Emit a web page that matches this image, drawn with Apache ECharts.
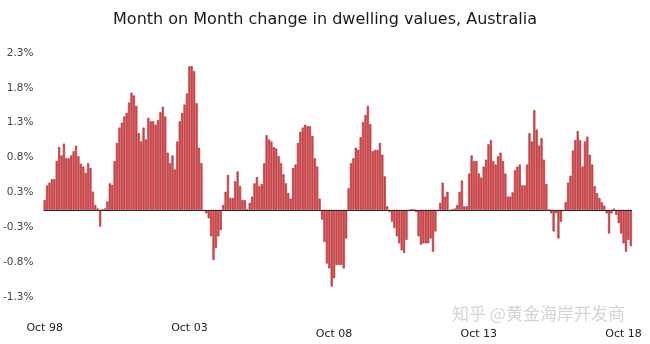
<!DOCTYPE html>
<html>
<head>
<meta charset="utf-8">
<script src="https://cdn.jsdelivr.net/npm/echarts@6/dist/echarts.min.js"></script>
<style>html,body{margin:0;padding:0;background:#fff;}#c{width:650px;height:344px;}</style>
</head>
<body>
<div id="c"></div>
<script>
// Monthly change (%) from Oct 98
const values = [
 0.14,0.35,0.39,0.44,0.44,0.70,0.90,0.78,0.95,0.74,
 0.74,0.78,0.84,0.92,0.77,0.66,0.62,0.53,0.67,0.60,
 0.26,0.07,0.02,-0.24,0.01,0.02,0.12,0.38,0.36,0.70,
 0.96,1.18,1.25,1.34,1.39,1.54,1.68,1.64,1.49,1.10,
 0.98,1.18,1.01,1.32,1.27,1.27,1.22,1.29,1.40,1.48,
 1.34,0.82,0.67,0.78,0.58,0.98,1.27,1.39,1.51,1.67,
 2.06,2.06,1.99,1.53,0.89,0.67,-0.02,-0.05,-0.12,-0.38,
 -0.72,-0.55,-0.38,-0.29,0.07,0.26,0.50,0.17,0.17,0.41,
 0.55,0.34,0.14,0.14,0.01,0.10,0.19,0.38,0.47,0.34,
 0.37,0.67,1.07,1.01,0.98,0.90,0.88,0.77,0.67,0.51,
 0.38,0.24,0.16,0.60,0.65,0.96,1.12,1.18,1.22,1.20,
 1.20,1.06,0.74,0.62,0.16,-0.14,-0.46,-0.77,-0.84,-1.10,
 -0.98,-0.79,-0.79,-0.79,-0.84,-0.41,0.31,0.67,0.74,0.89,
 0.86,1.04,1.26,1.36,1.49,1.23,0.84,0.86,0.86,0.96,
 0.79,0.48,0.05,-0.03,-0.17,-0.26,-0.38,-0.48,-0.58,-0.62,
 -0.43,-0.02,0.01,0.01,-0.03,-0.38,-0.50,-0.48,-0.48,-0.48,
 -0.41,-0.60,-0.31,-0.02,0.10,0.39,0.19,0.26,-0.02,0.01,
 0.02,0.07,0.26,0.42,0.05,0.05,0.52,0.78,0.70,0.70,
 0.52,0.46,0.62,0.72,0.94,1.00,0.70,0.65,0.77,0.82,
 0.70,0.52,0.19,0.19,0.25,0.57,0.62,0.65,0.35,0.35,
 0.65,1.10,0.98,1.43,1.15,0.92,1.03,0.72,0.37,0.00,
 -0.05,-0.31,-0.05,-0.41,-0.17,-0.02,0.11,0.39,0.49,0.85,
 1.00,1.13,1.00,0.62,0.98,1.05,0.79,0.65,0.34,0.24,
 0.17,0.11,0.06,-0.05,-0.34,-0.05,0.02,-0.07,-0.19,-0.34,
 -0.48,-0.60,-0.43,-0.52
];
const monthNames = ['Jan','Feb','Mar','Apr','May','Jun','Jul','Aug','Sep','Oct','Nov','Dec'];
const startYear = 1998, startMonth = 9;
const categories = values.map((v, i) => {
  const m = startMonth + i;
  const y = startYear + Math.floor(m / 12);
  return monthNames[m % 12] + ' ' + String(y % 100).padStart(2, '0');
});
const xTickLabels = ['Oct 98','Oct 03','Oct 08','Oct 13','Oct 18'];
const xLowered = ['Oct 08','Oct 13','Oct 18'];
const yTickLabels = ['-1.3%','-0.8%','-0.3%','0.3%','0.8%','1.3%','1.8%','2.3%'];
const titleText = 'Month on Month change in dwelling values, Australia';
const watermark = '知乎 @黄金海岸开发商';

const chart = echarts.init(document.getElementById('c'), null, {renderer: 'canvas'});
chart.setOption({
  backgroundColor: '#ffffff',
  animation: false,
  title: {
    text: titleText, left: 'center', top: 7,
    textStyle: {fontFamily: 'DejaVu Sans', fontSize: 16, fontWeight: 'normal', color: '#1a1a1a'}
  },
  grid: {left: 43, right: 18, top: 53, bottom: 47, containLabel: false},
  xAxis: {
    type: 'category', data: categories, boundaryGap: true,
    axisLine: {show: false}, axisTick: {show: false}, splitLine: {show: false},
    axisLabel: {
      interval: (idx, val) => xTickLabels.indexOf(val) >= 0,
      margin: 26, fontFamily: 'DejaVu Sans', fontSize: 11, color: '#222',
      formatter: (val) => xLowered.indexOf(val) >= 0 ? '{b|' + val + '}' : '{a|' + val + '}',
      rich: {
        a: {fontFamily: 'DejaVu Sans', fontSize: 11, color: '#222', padding: [0,0,0,0]},
        b: {fontFamily: 'DejaVu Sans', fontSize: 11, color: '#222', padding: [6,0,0,0]}
      }
    }
  },
  yAxis: {
    type: 'value', min: -1.25, max: 2.25, interval: 0.5,
    axisLine: {show: false}, axisTick: {show: false}, splitLine: {show: false},
    axisLabel: {
      margin: 10, fontFamily: 'DejaVu Sans', fontSize: 10.5, color: '#444',
      formatter: (v) => yTickLabels[Math.round((v + 1.25) / 0.5)] || ''
    }
  },
  series: [{
    type: 'bar', data: values, barCategoryGap: '12%',
    itemStyle: {color: '#e2484d', borderColor: '#9b2227', borderWidth: 0.5},
    markLine: {
      silent: true, symbol: 'none', label: {show: false},
      lineStyle: {color: '#2a2a2a', width: 1.2, type: 'solid'},
      data: [{yAxis: 0}]
    }
  }],
  graphic: [{
    type: 'text', left: 452, top: 305,
    style: {text: watermark, fill: 'rgba(170,170,170,0.5)', font: '17px "Noto Sans CJK SC"'}
  }]
});
</script>
</body>
</html>
